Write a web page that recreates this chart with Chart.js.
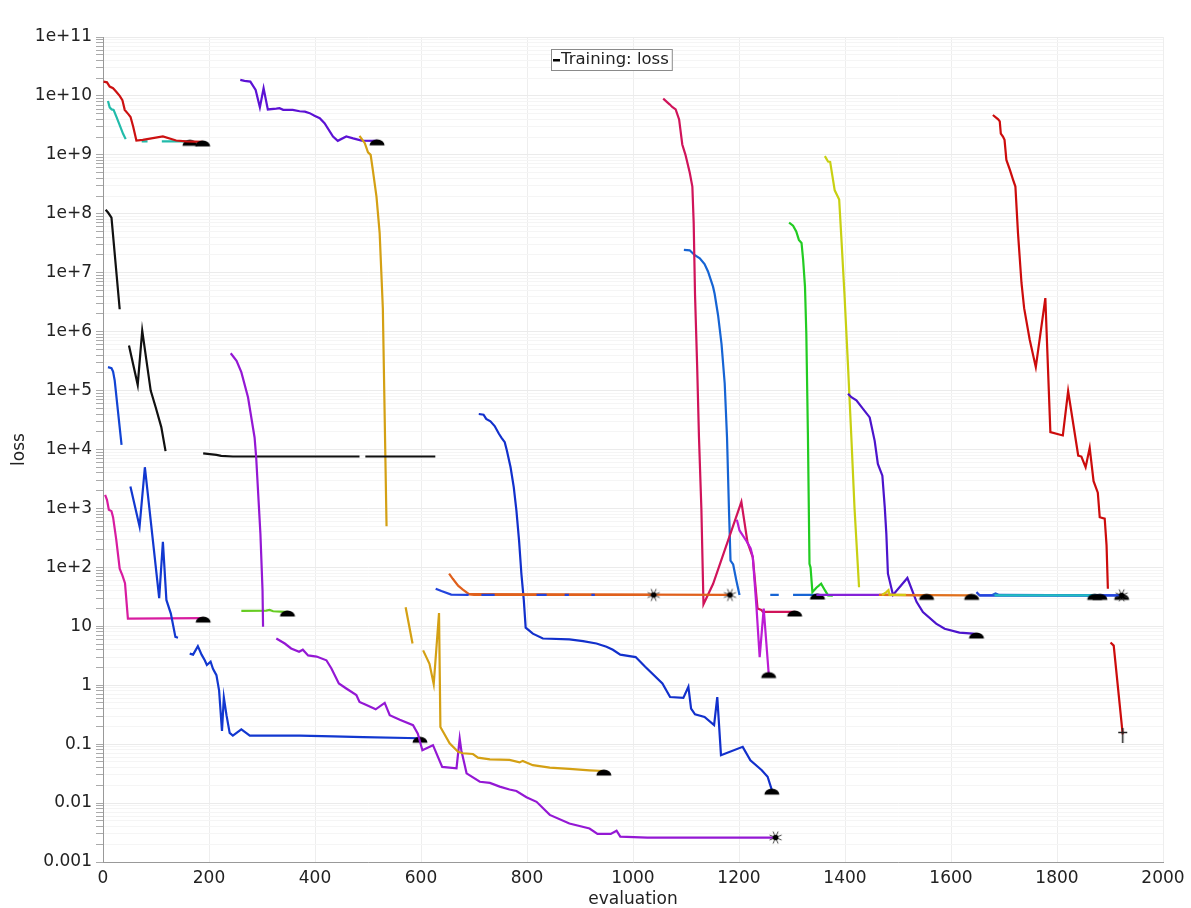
<!DOCTYPE html>
<html><head><meta charset="utf-8">
<script src="https://cdn.jsdelivr.net/npm/chart.js@4.4.1/dist/chart.umd.min.js"></script>
<style>html,body{margin:0;padding:0;background:#fff}canvas{display:block}</style>
</head><body>
<canvas id="c" width="1191" height="908"></canvas>
<script>
// ---------- tick labels ----------
const xTicks = [0,200,400,600,800,1000,1200,1400,1600,1800,2000];
const yDecades = [-3,-2,-1,0,1,2,3,4,5,6,7,8,9,10,11];
const yTickLabels = ['0.001','0.01','0.1','1','10','1e+2','1e+3','1e+4','1e+5','1e+6','1e+7','1e+8','1e+9','1e+10','1e+11'];
const legendLabel = 'Training: loss';
const xTitle = 'evaluation';
const yTitle = 'loss';

// ---------- series values [evaluation, loss] ----------
const redTopLeft = [[1,1.75e10],[7.5,1.7e10],[12.6,1.44e10],[19,1.35e10],[25,1.18e10],[31.5,1e10],[36.6,8.5e9],[41,5.8e9],[47,5e9],[52,4.4e9],[57,3e9],[63,1.75e9],[75,1.8e9],[113,2.05e9],[138,1.75e9],[157,1.7e9],[188,1.66e9]];
const cyanTopLeft = [[9.4,8.2e9],[12.6,6.4e9],[16.4,5.9e9],[20,5.8e9],[25,4.5e9],[31.5,3.2e9],[37.7,2.3e9],[42.8,1.85e9],[50,null],[73,1.7e9],[84,1.7e9],[95,null],[111,1.7e9],[164,1.7e9]];
const purpleTop = [[259,1.87e10],[267,1.8e10],[278,1.75e10],[288,1.26e10],[296,6.4e9],[303,1.35e10],[311,5.9e9],[327,6.1e9],[333,6.2e9],[340,5.8e9],[358,5.8e9],[371,5.5e9],[381,5.4e9],[390,5.1e9],[399,4.6e9],[409,4.2e9],[418,3.45e9],[434,2.05e9],[443,1.73e9],[459,2.05e9],[472,1.9e9],[488,1.75e9],[517,1.73e9]];
const goldTop = [[484,2.1e9],[494,1.58e9],[500,1.1e9],[505,1e9],[509,5.6e8],[516,1.96e8],[522,4.7e7],[528,2.5e6],[535,500]];
const blackTop = [[5,1.17e8],[9.5,1.05e8],[16,8.6e7],[31.5,2.4e6]];
const blackMid = [[49,5.8e5],[65.5,1.25e5],[74,1.04e6],[90,1e5],[99.4,5.2e4],[110,2.4e4],[118,9.4e3]];
const blackFlat = [[189,8.6e3],[214,8.1e3],[223,7.8e3],[245,7.6e3],[484,7.6e3],[490,null],[495,7.6e3],[627,7.6e3]];
const blueSmall = [[9.4,2.5e5],[16,2.4e5],[19,2.1e5],[22,1.5e5],[35,1.2e4]];
const magentaLeft = [[4,1.7e3],[7.5,1.4e3],[11,950],[16,900],[19,710],[25,295],[31.5,95],[36.6,73],[41.5,54],[47,13.5],[189,13.8]];
const blueZig = [[51.7,2.36e3],[69,494],[79,5e3],[106,30],[113,270],[119.6,28],[128,16.4],[136.6,6.6],[141.5,6.4]];
const blueLowLeft = [[163.6,3.43],[170,3.3],[179,4.6],[186,3.3],[192,2.65],[196,2.2],[203,2.5],[207.5,1.9],[214,1.48],[219,0.82],[224.5,0.168],[228,0.62],[233,0.31],[239,0.155],[245,0.14],[261,0.178],[277,0.14],[371,0.14],[434,0.135],[491,0.132],[598,0.126]];
const greenLeft = [[261,18.2],[308,18.4],[314.5,18.9],[321,18],[343,17.6],[348,17.5]];
const purpleDrop = [[241,4.3e5],[252,3.2e5],[261,2.05e5],[273.6,7.7e4],[286,1.6e4],[289,7.4e3],[297,371],[301,41],[302,9.8]];
const purpleLong = [[327,6.2],[343,5.1],[355,4.2],[370,3.7],[377,4.0],[387,3.2],[403,3.06],[421.5,2.65],[431,1.92],[445,1.07],[459,0.88],[478,0.68],[484,0.52],[497,0.46],[514.5,0.39],[531.5,0.5],[541,0.31],[560,0.26],[585,0.21],[594,0.151],[602.6,0.079],[622.6,0.096],[640,0.041],[667,0.039],[673,0.124],[676,0.079],[686,0.032],[711,0.023],[730,0.022],[748.5,0.019],[767,0.017],[780,0.016],[799,0.0126],[818,0.0105],[843,0.0063],[880,0.0045],[918,0.0037],[933,0.003],[958,0.003],[969,0.0034],[976,0.0027],[1027,0.0026],[1269,0.0026]];
const goldLow = [[571,21],[584,5.1],[594,null],[604,3.9],[616,2.3],[624,1.04],[634,16.8],[636.6,0.196],[654,0.103],[670,0.074],[679,0.07],[698,0.068],[707.5,0.059],[730,0.055],[767,0.054],[786,0.049],[792,0.052],[811,0.044],[843,0.04],[880,0.038],[918,0.036],[945,0.035]];
const orangeMidA = [[653,78],[660,64],[670,49],[679,42],[690.6,35],[700,34],[1039,34]];
const orangeMidB = [[690.6,35],[1183,34]];
const blueMidFlat = [[627.7,43.5],[638.5,39.6],[657,34.5],[690,34],[700,null],[714,34],[739,34],[760,null],[818,34],[837,34],[850,null],[871,34],[879,34],[900,null],[921.5,34],[928,34]];
const blueBig = [[709,4e4],[718,3.9e4],[723,3.3e4],[731,3e4],[739,2.5e4],[747,1.85e4],[752,1.58e4],[758,1.33e4],[762,9.6e3],[769,5e3],[775,2.3e3],[780,925],[785,286],[789.4,78],[794,27.5],[797.5,9.5],[811,7.5],[830,6.2],[880,6.0],[905.7,5.6],[931,5.1],[950,4.5],[962,4.0],[976,3.3],[1005,3.0],[1023,2.05],[1055.5,1.07],[1070,0.63],[1095,0.61],[1104.5,0.94],[1109.6,0.40],[1117,0.32],[1135,0.29],[1153,0.21],[1159,0.63],[1166,0.065],[1207,0.09],[1221.5,0.053],[1243,0.036],[1254,0.028],[1262,0.0166]];
const crimson = [[1057,9e9],[1069,7.2e9],[1074,6.5e9],[1080.5,5.9e9],[1087,4e9],[1093,1.5e9],[1099,1e9],[1107,5e8],[1112,2.9e8],[1114.5,7e7],[1117,4.3e6],[1121,2.7e5],[1124.5,1.6e4],[1129,1e3],[1132,60],[1133,23.6],[1151,52],[1204.5,1290],[1216,267],[1226,148],[1235,20],[1242,19],[1245,17.5],[1305,17.5]];
const blueDrop = [[1096,2.45e7],[1107,2.4e7],[1116,2e7],[1126,1.76e7],[1135,1.4e7],[1141.5,1.05e7],[1151,5.8e6],[1154,4.4e6],[1160.5,1.9e6],[1167,6.2e5],[1173,1.33e5],[1177.4,1.6e4],[1181,1e3],[1184,130],[1189,112],[1195,60],[1201,34]];
const blueDash = [[1259,34],[1275,34],[1288,null],[1302,34],[1348,34]];
const magentaRight = [[1196,643],[1201,423],[1214,280],[1222,210],[1226,150],[1233,21],[1239,3.0],[1246.6,20],[1256,1.58]];
const greenRight = [[1294.5,7.1e7],[1302,6.3e7],[1308,5e7],[1313,3.6e7],[1318,3.2e7],[1321,1.66e7],[1324.5,5.8e6],[1327,9.5e5],[1330,1.85e4],[1333,115],[1335,100],[1338.5,38],[1346,45],[1355,53],[1362,41],[1368,33.5],[1377,33]];
const yellowRight = [[1362,9.5e8],[1368,7.7e8],[1372,7.6e8],[1380.6,2.5e8],[1389,1.75e8],[1393,4.1e7],[1399,4.3e6],[1405.6,2.7e5],[1412,1.6e4],[1418,1e3],[1426.5,46]];
const indigoRight = [[1405.7,8.8e4],[1412,7.7e4],[1421.5,6.8e4],[1434,4.9e4],[1446.6,3.5e4],[1456,1.4e4],[1462,5.7e3],[1470.5,3.6e3],[1475,1.05e3],[1478,370],[1481,78],[1490.6,34],[1517.7,66],[1535,26],[1547,17.4],[1572,11.1],[1588,9.1],[1616,7.8],[1641.5,7.5],[1648,7.4]];
const purpleFlat = [[1346,34],[1490,34]];
const orangeRightA = [[1464,34],[1639,33.5]];
const orangeRightB = [[1470,34],[1554,33.5]];
const yellowTiny = [[1470,34],[1478,38],[1482,41],[1484,34],[1515,34]];
const blueRightA = [[1648,38],[1654,33.5],[1922,33.5]];
const blueRightB = [[1654,33.5],[1922,33.5]];
const blueBump = [[1678,34],[1684,36],[1691,34],[1881,33.5]];
const cyanRight = [[1682,33.5],[1871,33.5]];
const redRight = [[1679,4.75e9],[1689,4e9],[1692,3.7e9],[1694,2.3e9],[1698,2.05e9],[1701,1.8e9],[1704.5,8.2e8],[1711,5.6e8],[1717,3.8e8],[1721.5,2.9e8],[1726.4,4.7e7],[1733,6.7e6],[1738,2.5e6],[1748.5,7.3e5],[1760,2.5e5],[1778,3.7e6],[1787.5,1.97e4],[1811,1.73e4],[1821,9.8e4],[1840,7.9e3],[1846,7.6e3],[1854,5e3],[1861.7,1.07e4],[1869,2.9e3],[1877,1.85e3],[1880.6,710],[1890,670],[1893.5,236],[1896,43.5]];
const redSmall = [[1901,5.3],[1907,4.7],[1924,0.146]];

// ---------- end-of-run markers ----------
function makeDome(){
  const c=document.createElement('canvas'); c.width=18; c.height=18;
  const g=c.getContext('2d'); g.fillStyle='#000';
  g.beginPath(); g.ellipse(9,13.5,7.5,6,0,Math.PI,2*Math.PI); g.closePath(); g.fill();
  return c;
}
function makeStar(){
  const c=document.createElement('canvas'); c.width=15; c.height=15;
  const g=c.getContext('2d'); g.strokeStyle='#333'; g.lineWidth=0.9;
  for(let k=0;k<8;k++){const a=k*Math.PI/4+Math.PI/8; g.beginPath(); g.moveTo(7.5+2*Math.cos(a),7.5+2*Math.sin(a)); g.lineTo(7.5+6.5*Math.cos(a),7.5+6.5*Math.sin(a)); g.stroke();}
  g.fillStyle='#000'; g.beginPath(); g.arc(7.5,7.5,2.8,0,2*Math.PI); g.fill();
  return c;
}
function makeCross(){
  const c=document.createElement('canvas'); c.width=13; c.height=23;
  const g=c.getContext('2d'); g.strokeStyle='#222'; g.lineWidth=1.5;
  g.beginPath(); g.moveTo(6.5,5); g.lineTo(6.5,20); g.moveTo(2,9.5); g.lineTo(11,9.5); g.stroke();
  return c;
}
const markers = {dome: makeDome(), star: makeStar(), cross: makeCross()};

// drawing list: first entry is drawn on top
const series = [
  {d: blueMidFlat, c:'#2244dd'},
  {d: orangeMidA, c:'#e0601c', m:'star'},
  {d: orangeMidB, c:'#e0601c', m:'star'},
  {d: cyanRight, c:'#22c0c0', m:'dome'},
  {d: blueBump, c:'#2060d4', m:'dome'},
  {d: blueRightA, c:'#2244dd', m:'star'},
  {d: blueRightB, c:'#2244dd', m:'dome'},
  {d: yellowTiny, c:'#d4c814'},
  {d: orangeRightB, c:'#e0701c', m:'dome'},
  {d: orangeRightA, c:'#e0701c', m:'dome'},
  {d: purpleFlat, c:'#8422d8'},
  {d: redSmall, c:'#cc0c0c', m:'cross'},
  {d: redRight, c:'#cc0c0c'},
  {d: indigoRight, c:'#4c14cc', m:'dome'},
  {d: yellowRight, c:'#c8d012'},
  {d: greenRight, c:'#22cc22'},
  {d: blueDash, c:'#1664d4', m:'dome'},
  {d: magentaRight, c:'#bc1cd4', m:'dome'},
  {d: crimson, c:'#d0145a', m:'dome'},
  {d: blueDrop, c:'#1664d4'},
  {d: blueBig, c:'#1230cc', m:'dome'},
  {d: goldLow, c:'#d4a014', m:'dome'},
  {d: purpleLong, c:'#9418d4', m:'star'},
  {d: purpleDrop, c:'#9418d4'},
  {d: greenLeft, c:'#66cc22', m:'dome'},
  {d: blueLowLeft, c:'#1238d0', m:'dome'},
  {d: blueZig, c:'#1238d0'},
  {d: magentaLeft, c:'#d81ca0', m:'dome'},
  {d: blueSmall, c:'#1244d4'},
  {d: blackFlat, c:'#111111'},
  {d: blackMid, c:'#111111'},
  {d: blackTop, c:'#111111'},
  {d: goldTop, c:'#d4a014'},
  {d: purpleTop, c:'#5c12d4', m:'dome'},
  {d: redTopLeft, c:'#cc1111', m:'dome'},
  {d: cyanTopLeft, c:'#22bbaa', m:'dome'}
];

const datasets = series.map(s => ({
  data: s.d.map(p => ({x:p[0], y:p[1]})),
  borderColor: s.c,
  backgroundColor: s.c,
  borderWidth: 2.2,
  tension: 0,
  fill: false,
  spanGaps: false,
  pointStyle: s.m ? markers[s.m] : 'circle',
  pointRadius: ctx => (s.m && ctx.dataIndex === s.d.length - 1) ? 5 : 0,
  pointHoverRadius: 0
}));

const FONT = '"DejaVu Sans", sans-serif';

const legendBox = {
  id: 'legendBox',
  afterDraw(chart) {
    const g = chart.ctx;
    g.save();
    g.font = '16.5px ' + FONT;
    const w = g.measureText(legendLabel).width;
    const x0 = 551, y0 = 49, h = 21;
    g.fillStyle = '#fff'; g.fillRect(x0, y0, w + 14, h);
    g.strokeStyle = '#8a8a8a'; g.lineWidth = 1; g.strokeRect(x0 + 0.5, y0 + 0.5, w + 13, h);
    g.fillStyle = '#000'; g.fillRect(x0 + 2, y0 + 10, 7, 2.5);
    g.fillStyle = '#222'; g.textBaseline = 'middle'; g.textAlign = 'left';
    g.fillText(legendLabel, x0 + 10, y0 + h / 2 + 0.5);
    g.restore();
  }
};

new Chart(document.getElementById('c'), {
  type: 'line',
  data: { datasets },
  plugins: [legendBox],
  options: {
    responsive: false,
    animation: false,
    devicePixelRatio: 1,
    events: [],
    layout: { padding: { top: 37, right: 28, left: 0, bottom: 0 } },
    plugins: { legend: { display: false }, tooltip: { enabled: false } },
    scales: {
      x: {
        type: 'linear', min: 0, max: 2000,
        afterFit: s => { s.height = 46; },
        afterBuildTicks: s => { s.ticks = xTicks.map(v => ({ value: v })); },
        ticks: { autoSkip: false, maxRotation: 0, padding: 6, color: '#222', font: { family: FONT, size: 17 }, callback: v => String(v) },
        grid: { color: '#eeeeee', drawTicks: false },
        border: { color: '#999', width: 1 },
        title: { display: true, text: xTitle, color: '#222', font: { family: FONT, size: 17, lineHeight: 1 }, padding: { top: 0, bottom: 0 } }
      },
      y: {
        type: 'logarithmic', min: 0.001, max: 1e11,
        afterFit: s => { s.width = 103; },
        afterBuildTicks: s => {
          const t = [];
          yDecades.forEach(e => {
            const top = e === yDecades[yDecades.length - 1] ? 1 : 9;
            for (let m = 1; m <= top; m++) t.push({ value: Number(m + 'e' + e), major: m === 1 });
          });
          s.ticks = t;
        },
        ticks: {
          autoSkip: false, padding: 4, color: '#222', font: { family: FONT, size: 17 },
          callback: (v, i, ticks) => {
            if (!ticks[i].major) return '';
            return yTickLabels[Math.round(Math.log10(v)) - yDecades[0]];
          }
        },
        grid: {
          color: ctx => (ctx.tick && ctx.tick.major) ? '#ebebeb' : '#f5f5f5',
          tickColor: '#aaa', tickLength: 7, drawTicks: true
        },
        border: { color: '#999', width: 1 },
        title: { display: true, text: yTitle, color: '#222', font: { family: FONT, size: 17, lineHeight: 1 }, padding: { top: 11, bottom: 0 } }
      }
    }
  }
});
</script>
</body></html>
